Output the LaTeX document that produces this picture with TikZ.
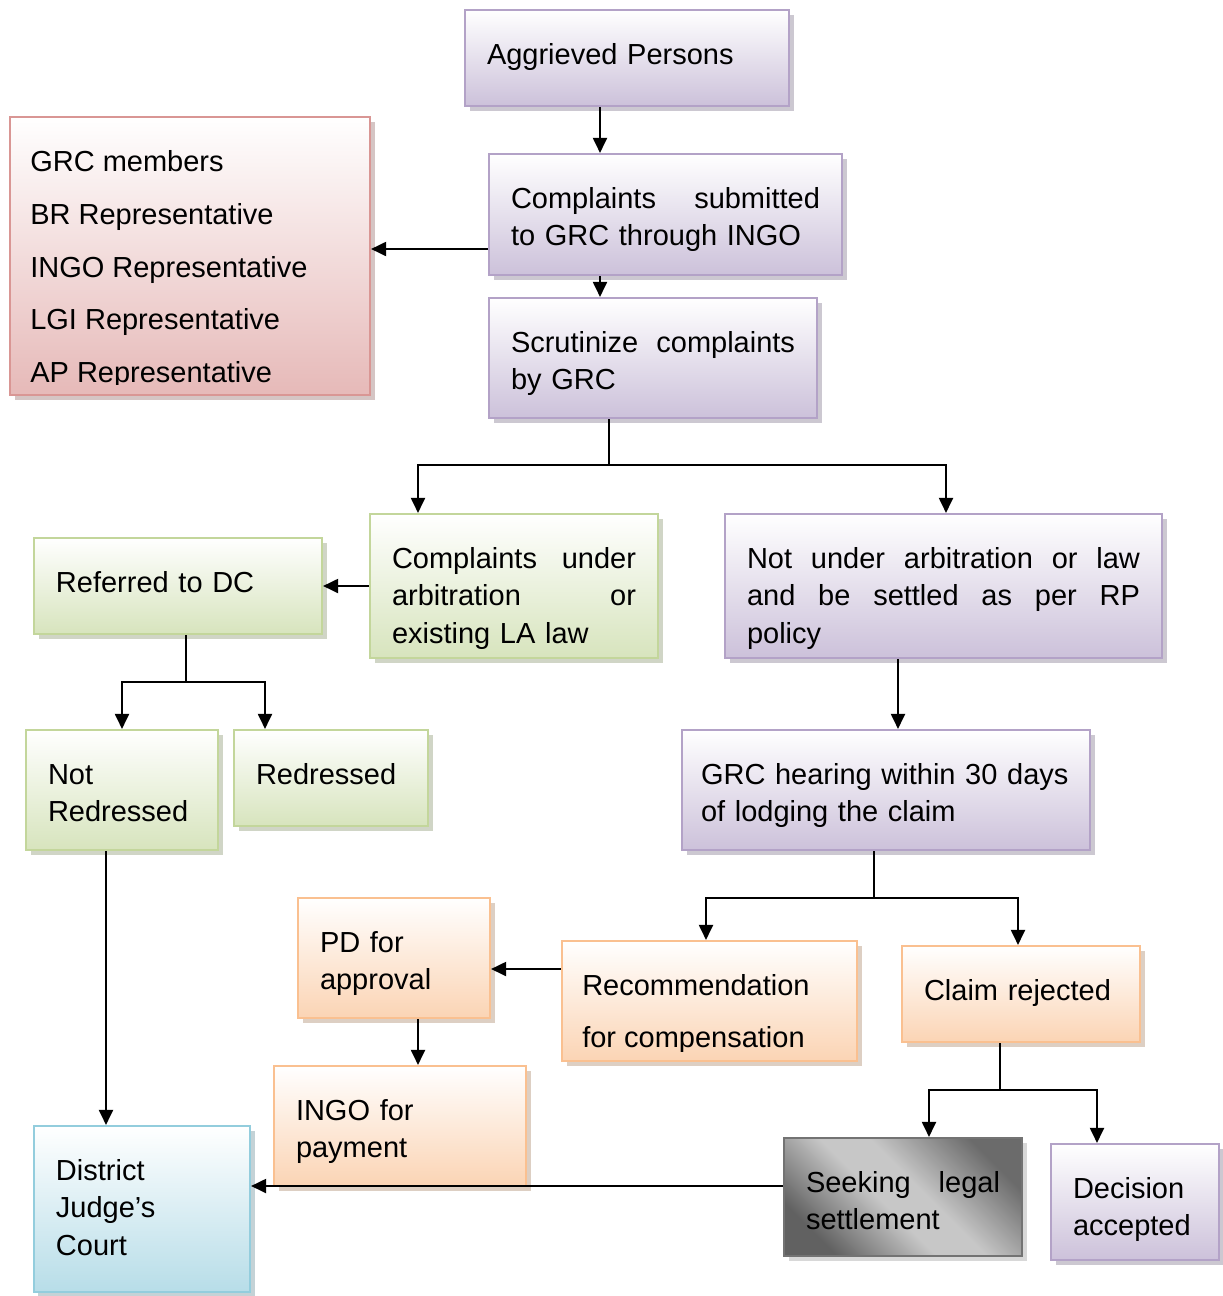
\documentclass[tikz,border=0pt]{standalone}
\usepackage{fontspec}
\setmainfont{Liberation Sans}
\usetikzlibrary{arrows.meta}
\usetikzlibrary{shadows}

\definecolor{lilacline}{HTML}{B3A2C7}
\definecolor{lilacfill}{HTML}{CCC1DA}
\definecolor{roseline}{HTML}{D99694}
\definecolor{rosefill}{HTML}{E6B9B8}
\definecolor{leafline}{HTML}{C3D69B}
\definecolor{leaffill}{HTML}{D7E4BD}
\definecolor{peachline}{HTML}{FAC090}
\definecolor{peachfill}{HTML}{FBD4B4}
\definecolor{skyline}{HTML}{93CDDD}
\definecolor{skyfill}{HTML}{B7DDE8}

\pgfdeclarehorizontalshading{steel}{100bp}{color(0bp)=(black!62); color(25bp)=(black!62); color(45bp)=(black!22); color(55bp)=(black!22); color(75bp)=(black!58); color(100bp)=(black!58)}

\newcommand{\boxfont}{\fontsize{16.5}{21.5}\selectfont\parindent=0pt}
\newcommand{\listfont}{\fontsize{16.5}{30}\selectfont}

\begin{document}
\begin{tikzpicture}[
	box/.style={rectangle, line width=1.2pt, align=left, inner xsep=0.42cm, inner ysep=0pt,
		text height=1.08cm, font=\boxfont},
	lilac/.style={box, draw=lilacline, top color=white, bottom color=lilacfill,
		drop shadow={shadow xshift=0.09cm, shadow yshift=-0.09cm, fill=lilacfill!75!black}},
	rose/.style={box, draw=roseline, top color=white, bottom color=rosefill,
		drop shadow={shadow xshift=0.09cm, shadow yshift=-0.09cm, fill=rosefill!75!black}},
	leaf/.style={box, draw=leafline, top color=white, bottom color=leaffill,
		drop shadow={shadow xshift=0.09cm, shadow yshift=-0.09cm, fill=leaffill!75!black}},
	peach/.style={box, draw=peachline, top color=white, bottom color=peachfill,
		drop shadow={shadow xshift=0.09cm, shadow yshift=-0.09cm, fill=peachfill!75!black}},
	sky/.style={box, draw=skyline, top color=white, bottom color=skyfill,
		drop shadow={shadow xshift=0.09cm, shadow yshift=-0.09cm, fill=skyfill!75!black}},
	steelbox/.style={box, draw=black!55, shading=steel, shading angle=45,
		drop shadow={shadow xshift=0.09cm, shadow yshift=-0.09cm, fill=black!30}},
	cliptext/.style={anchor=north west, align=left, inner sep=0pt, font=\listfont},
	link/.style={line width=1.1pt},
	arr/.style={link, -{Triangle[length=0.30cm,width=0.28cm]}}
	]
	\useasboundingbox (0,0) rectangle (24.46,-25.92);

	\node[lilac, minimum width=6.48cm, text depth=0.84cm, text width=5.60cm] (aggr) at (12.54,-1.16) {Aggrieved Persons};
	\node[lilac, minimum width=7.06cm, text depth=1.34cm, text width=6.18cm] (subm) at (13.31,-4.29) {Complaints\hfill submitted\\to GRC through INGO};
	\node[lilac, minimum width=6.56cm, text depth=1.32cm, text width=5.68cm] (scru) at (13.06,-7.16) {Scrutinize\hfill complaints\\by GRC};
	\node[rose, minimum width=7.20cm, minimum height=5.56cm, text height=0pt, text depth=0pt] (memb) at (3.80,-5.12) {};
	\begin{scope}
		\clip (memb.north west) rectangle ([yshift=0.24cm]memb.south east);
		\node[cliptext] (membtext) at ([xshift=0.42cm,yshift=-0.37cm]memb.north west)
			{\strut GRC members\\BR Representative\\INGO Representative\\LGI Representative\\AP Representative};
	\end{scope}

	\node[leaf, minimum width=5.76cm, text depth=1.80cm, text width=4.88cm] (arbi) at (10.28,-11.72) {Complaints\hfill under\\arbitration\hfill or\\existing LA law};
	\node[lilac, minimum width=8.74cm, text depth=1.80cm, text width=7.86cm] (nour) at (18.87,-11.72) {Not\hfill under\hfill arbitration\hfill or\hfill law\\and\hfill be\hfill settled\hfill as\hfill per\hfill RP\\policy};
	\node[leaf, minimum width=5.76cm, text depth=0.84cm, text width=4.88cm] (refd) at (3.56,-11.72) {Referred to DC};
	\node[leaf, minimum width=3.84cm, text depth=1.32cm, text width=2.96cm] (notr) at (2.44,-15.80) {Not\\Redressed};
	\node[leaf, minimum width=3.88cm, text depth=0.84cm, text width=3.00cm] (redr) at (6.62,-15.56) {Redressed};
	\node[lilac, minimum width=8.16cm, text depth=1.32cm, text width=7.40cm, inner xsep=0.38cm] (hear) at (17.72,-15.80) {GRC hearing within 30 days\\of lodging the claim};

	\node[peach, minimum width=3.84cm, text depth=1.32cm, text width=2.96cm] (pdap) at (7.88,-19.16) {PD for\\approval};
	\node[peach, minimum width=5.90cm, minimum height=2.40cm, text height=0pt, text depth=0pt] (reco) at (14.19,-20.02) {};
	\begin{scope}
		\clip (reco.north west) rectangle ([yshift=0.22cm]reco.south east);
		\node[cliptext] (recotext) at ([xshift=0.42cm,yshift=-0.36cm]reco.north west)
			{\strut Recommendation\\for compensation};
	\end{scope}
	\node[peach, minimum width=4.76cm, text depth=0.84cm, text width=3.88cm] (clai) at (20.42,-19.88) {Claim rejected};
	\node[peach, minimum width=5.04cm, text depth=1.32cm, text width=4.16cm] (ingo) at (8.00,-22.52) {INGO for\\payment};
	\node[sky, minimum width=4.32cm, text depth=2.24cm, text width=3.44cm] (dist) at (2.84,-24.18) {District\\Judge’s\\Court};
	\node[steelbox, minimum width=4.76cm, text depth=1.28cm, text width=3.88cm] (seek) at (18.06,-23.94) {Seeking\hfill legal\\settlement};
	\node[lilac, minimum width=3.36cm, text depth=1.24cm, text width=2.48cm] (deci) at (22.70,-24.04) {Decision\\accepted};

	\coordinate (t1) at (12.00,0);
	\draw[arr] (aggr.south -| t1) -- (subm.north -| t1);
	\draw[arr] (subm.south -| t1) -- (scru.north -| t1);
	\coordinate (h1) at (0,-4.98);
	\draw[arr] (subm.west |- h1) -- (memb.east |- h1);

	\coordinate (s1) at (12.18,-9.30);
	\draw[link] (scru.south -| s1) -- (s1);
	\draw[arr] (s1) -| ([xshift=-1.92cm]arbi.north);
	\draw[arr] (s1) -| ([xshift=0.05cm]nour.north);
	\draw[arr] (arbi.west) -- (refd.east);

	\coordinate (s2) at (3.72,-13.64);
	\draw[link] (refd.south -| s2) -- (s2);
	\draw[arr] (s2) -| (notr.north);
	\draw[arr] (s2) -| ([xshift=-1.32cm]redr.north);

	\coordinate (t3) at (17.96,0);
	\draw[arr] (nour.south -| t3) -- (hear.north -| t3);
	\coordinate (s3) at (17.48,-17.96);
	\draw[link] (hear.south -| s3) -- (s3);
	\draw[arr] (s3) -| ([xshift=-0.07cm]reco.north);
	\draw[arr] (s3) -| ([xshift=-0.06cm]clai.north);

	\coordinate (h2) at (0,-19.38);
	\draw[arr] (reco.west |- h2) -- (pdap.east |- h2);
	\coordinate (t4) at (8.36,0);
	\draw[arr] (pdap.south -| t4) -- (ingo.north -| t4);

	\coordinate (s4) at (20.00,-21.80);
	\draw[link] (clai.south -| s4) -- (s4);
	\draw[arr] (s4) -| ([xshift=0.52cm]seek.north);
	\draw[arr] (s4) -| ([xshift=-0.76cm]deci.north);

	\coordinate (t5) at (2.12,0);
	\draw[arr] (notr.south -| t5) -- (dist.north -| t5);
	\coordinate (h3) at (0,-23.72);
	\draw[arr] (seek.west |- h3) -- (dist.east |- h3);
\end{tikzpicture}
\end{document}
